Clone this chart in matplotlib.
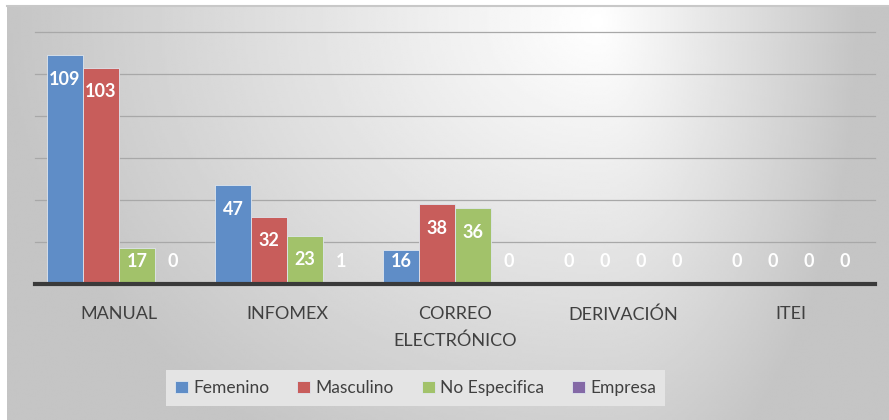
import numpy as np
import matplotlib
matplotlib.use("Agg")
import matplotlib.pyplot as plt
from matplotlib.patches import Patch

categories = ["MANUAL", "INFOMEX", "CORREO\nELECTRÓNICO", "DERIVACIÓN", "ITEI"]
series_names = ["Femenino", "Masculino", "No Especifica", "Empresa"]
femenino = [109, 47, 16, 0, 0]
masculino = [103, 32, 38, 0, 0]
no_especifica = [17, 23, 36, 0, 0]
empresa = [0, 1, 0, 0, 0]
colors = ["#5f8dc7", "#c85d5b", "#a2c26a", "#8469a6"]


def main():
    plt.rcParams["font.family"] = ["Lato", "DejaVu Sans"]
    fig = plt.figure(figsize=(8.89, 4.2), dpi=100)

    # gradient background
    bg = fig.add_axes([0, 0, 1, 1])
    bg.set_xlim(0, 889)
    bg.set_ylim(420, 0)
    bg.axis("off")
    xs = np.linspace(7, 889, 400)
    ys = np.linspace(5, 420, 200)
    X, Y = np.meshgrid(xs, ys)
    cx, cy = 600, 20
    dx = np.where(X < cx, (X - cx) / 600, (X - cx) / 260)
    dy = (Y - cy) / 500
    t = np.clip(np.sqrt(dx ** 2 + dy ** 2), 0, 1)
    v = 1 - 0.23 * t
    bg.imshow(v, cmap="gray", vmin=0, vmax=1, extent=(7, 889, 420, 5),
              aspect="auto", interpolation="bilinear")
    bg.plot([7, 889], [5.5, 5.5], color="#c8c8c8", lw=1.5)

    ax = fig.add_axes([35 / 889, 1 - 284 / 420, 840 / 889, 252 / 420])
    ax.set_facecolor("none")
    x = np.arange(len(categories))
    w = 36 / 168
    all_series = [femenino, masculino, no_especifica, empresa]
    for i, (vals, c) in enumerate(zip(all_series, colors)):
        pos = x + (i - 1.5) * w
        ax.bar(pos, vals, width=w, color=c, edgecolor="#dfe6ee",
               linewidth=0.6, zorder=3)
        for px, val in zip(pos, vals):
            ax.text(px, max(val - 11.5, 10.5), str(val), color="white",
                    fontsize=13, fontweight="bold", ha="center",
                    va="center", zorder=4)

    ax.set_xlim(-0.5, len(categories) - 0.5)
    ax.set_ylim(0, 120)
    for g in range(20, 121, 20):
        ax.axhline(g, color="#a8a8a8", lw=0.9, zorder=1, clip_on=False)
    ax.axhline(0, color="#3a3a3a", lw=3, zorder=5, clip_on=False)
    for s in ax.spines.values():
        s.set_visible(False)
    ax.set_yticks([])
    ax.set_xticks(x)
    ax.set_xticklabels(categories, fontsize=13, color="#404040",
                       linespacing=1.75)
    ax.tick_params(axis="x", length=0, pad=16)

    handles = [Patch(facecolor=c, edgecolor="#dfe6ee", lw=0.6) for c in colors]
    leg = fig.legend(handles, series_names, loc="center",
                     bbox_to_anchor=(415.5 / 889, 1 - 388 / 420), ncol=4,
                     fontsize=12.5, frameon=True, fancybox=False,
                     handlelength=0.75, handleheight=0.75, handletextpad=0.3,
                     columnspacing=1.6, borderpad=0.55)
    leg.get_frame().set_facecolor("#e4e4e4")
    leg.get_frame().set_edgecolor("none")
    leg.get_frame().set_alpha(1)
    for txt in leg.get_texts():
        txt.set_color("#404040")

    fig.savefig("out.png", dpi=100)


if __name__ == "__main__":
    main()
